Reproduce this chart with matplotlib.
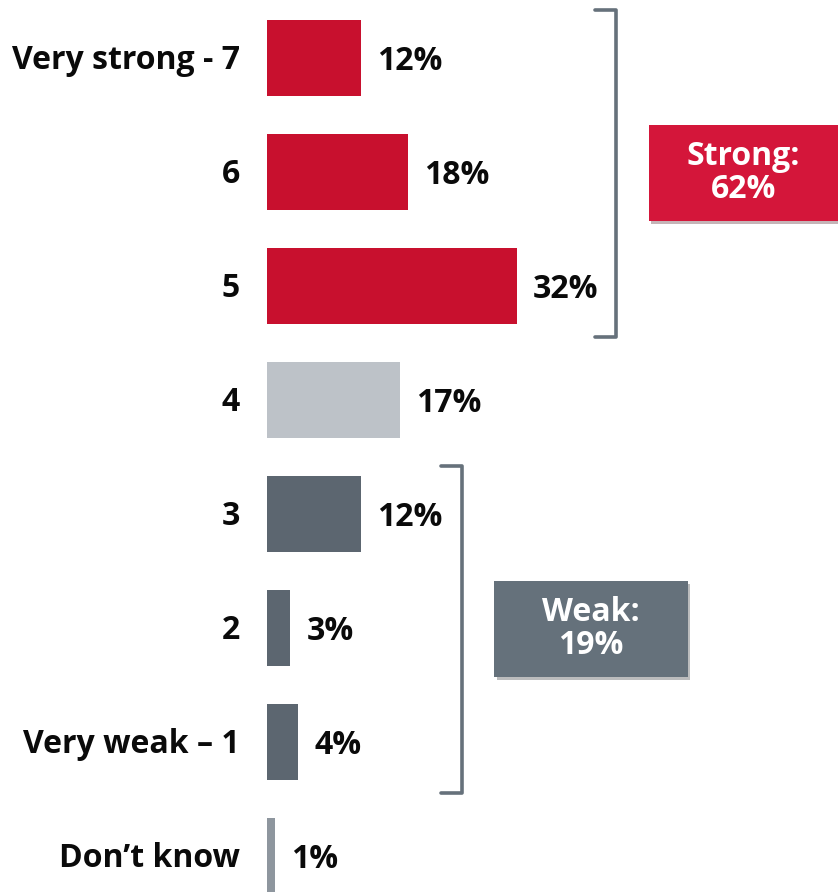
import matplotlib.pyplot as plt
from matplotlib.patches import Rectangle
import matplotlib.patheffects as pe

# ── data ──────────────────────────────────────────────────────
labels = ["Very strong - 7", "6", "5", "4", "3", "2", "Very weak \u2013 1", "Don\u2019t know"]
values = [12, 18, 32, 17, 12, 3, 4, 1]
colors = ["#C8102E", "#C8102E", "#C8102E", "#BDC2C8",
          "#5C6670", "#5C6670", "#5C6670", "#8E969E"]
groups = [("Strong:\n62%", 0, 2, "#D4163A"), ("Weak:\n19%", 4, 6, "#65717B")]

plt.rcParams["font.family"] = ["Open Sans", "DejaVu Sans"]

fig = plt.figure(figsize=(8.38, 8.92), dpi=100)
# axes from bar baseline (x=267px) to right edge
ax = fig.add_axes([267 / 838, 0, 1 - 267 / 838, 1])
px = 7.82  # pixels per percent
ax.set_xlim(0, 571 / px)
ax.set_ylim((892 - 58) / 114, -58 / 114)
ax.axis("off")

ypos = list(range(len(labels)))
ax.barh(ypos, values, height=0.667, color=colors)

FS = 23
for y, v, lab in zip(ypos, values, labels):
    ax.text(v + 16 / px, y + 0.03, f"{v}%", va="center", ha="left",
            fontsize=FS, fontweight="bold", color="#0A0A0A")
    ax.text(-27 / px, y + 0.02, lab, va="center", ha="right",
            fontsize=FS, fontweight="bold", color="#0A0A0A", clip_on=False)

# ── brackets ──────────────────────────────────────────────────
bracket_x = [44.6, 24.9]
box_x = [(48.8, 80), (29.0, 53.8)]
for (txt, i0, i1, col), bx, (x0, x1) in zip(groups, bracket_x, box_x):
    top = i0 - 0.42
    bot = i1 + 0.45
    ax.plot([bx - 2.6, bx, bx, bx - 2.6], [top, top, bot, bot],
            color="#66717B", lw=2.6, solid_joinstyle="round",
            solid_capstyle="round")
    mid = (i0 + i1) / 2 + 0.01
    h = 0.84
    rect = Rectangle((x0, mid - h / 2), x1 - x0, h, facecolor=col,
                     edgecolor="none", clip_on=False,
                     path_effects=[pe.SimplePatchShadow(offset=(2, -2), alpha=0.3),
                                   pe.Normal()])
    ax.add_patch(rect)
    ax.text((x0 + min(x1, 571 / px)) / 2, mid, txt, ha="center", va="center",
            fontsize=FS, fontweight="bold", color="white", linespacing=1.02)

fig.savefig("out.png", dpi=100)
